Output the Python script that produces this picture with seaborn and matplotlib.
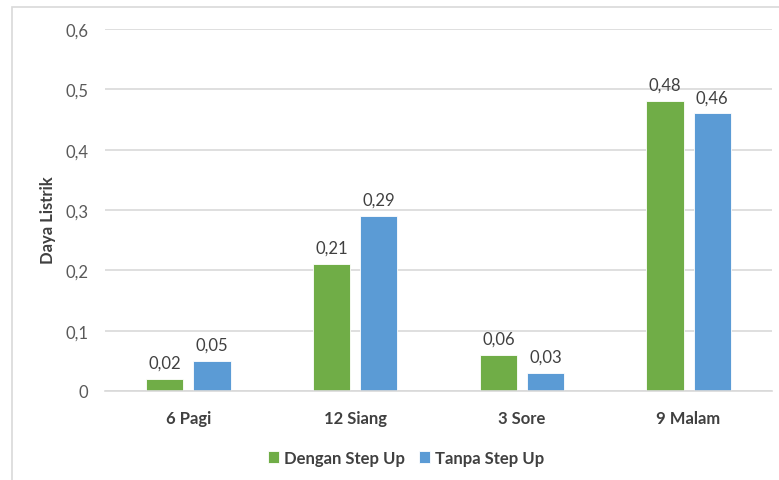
import matplotlib
matplotlib.use("Agg")
import matplotlib.pyplot as plt
from matplotlib.patches import Rectangle
import seaborn as sns
import pandas as pd

categories = ["6 Pagi", "12 Siang", "3 Sore", "9 Malam"]
series_names = ["Dengan Step Up", "Tanpa Step Up"]
dengan_step_up = [0.02, 0.21, 0.06, 0.48]
tanpa_step_up = [0.05, 0.29, 0.03, 0.46]
y_ticks = [0, 0.1, 0.2, 0.3, 0.4, 0.5, 0.6]
y_tick_labels = ["0", "0,1", "0,2", "0,3", "0,4", "0,5", "0,6"]

df = pd.DataFrame({
    "Waktu": categories * 2,
    "Seri": [series_names[0]] * len(categories) + [series_names[1]] * len(categories),
    "Daya": dengan_step_up + tanpa_step_up,
})

sns.set_theme(style="white")
plt.rcParams["font.family"] = ["Lato", "DejaVu Sans"]

W, H = 779, 481
fig = plt.figure(figsize=(W / 100, H / 100), dpi=100)
ax = fig.add_axes([105 / W, (H - 392) / H, (772 - 105) / W, (392 - 30) / H])

palette = {series_names[0]: "#70AD47", series_names[1]: "#5B9BD5"}
sns.barplot(data=df, x="Waktu", y="Daya", hue="Seri", order=categories,
            hue_order=series_names, palette=palette, width=0.565, gap=0.21,
            saturation=1, ax=ax, edgecolor="white", linewidth=0.6, legend=True)

ax.set_ylim(0, 0.6)
ax.set_xlim(-0.5, 3.5)
ax.set_yticks(y_ticks)
ax.set_yticklabels(y_tick_labels)
ax.yaxis.grid(True, color="#d9d9d9", linewidth=1.2)
ax.set_axisbelow(True)
for s in ["top", "right", "left"]:
    ax.spines[s].set_visible(False)
ax.spines["bottom"].set_color("#d9d9d9")
ax.spines["bottom"].set_linewidth(1.2)
ax.tick_params(axis="y", length=0, pad=12, labelsize=12, labelcolor="#595959")
ax.tick_params(axis="x", length=0, pad=14, labelsize=12, labelcolor="#404040")
for lab in ax.get_xticklabels():
    lab.set_fontweight("bold")
ax.set_xlabel("")
ax.set_ylabel("Daya Listrik", fontsize=12, fontweight="bold", color="#404040")
ax.yaxis.set_label_coords((56 - 105) / (772 - 105), (392 - 220) / (392 - 30))

for container in ax.containers:
    ax.bar_label(container, labels=[f"{v:.2f}".replace(".", ",") for v in container.datavalues],
                 padding=6, fontsize=12, color="#404040")

handles, labels = ax.get_legend_handles_labels()
ax.get_legend().remove()
fig.legend(handles, labels, loc="center", bbox_to_anchor=(406 / W, (H - 459) / H),
           ncol=2, frameon=False, handlelength=0.7, handleheight=0.7,
           columnspacing=0.8, handletextpad=0.3,
           prop={"weight": "bold", "size": 12, "family": ["Lato", "DejaVu Sans"]},
           labelcolor="#404040")

fig.patches.append(Rectangle((12 / W, -0.1), 1.2, (H - 8) / H + 0.1, transform=fig.transFigure,
                             fill=False, edgecolor="#d9d9d9", linewidth=1.2))

fig.savefig("out.png", dpi=100, facecolor="white")
